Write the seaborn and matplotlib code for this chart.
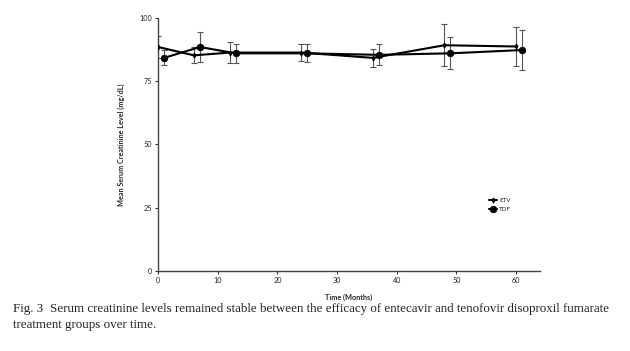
"""
Serum creatinine over time, ETV vs TDF (Fig. 3 recreation)
"""
import numpy as np
import pandas as pd
import matplotlib
matplotlib.use('Agg')
import matplotlib.pyplot as plt
import seaborn as sns

# data
etv_months = [0, 6, 12, 24, 36, 48, 60]
etv_mean = [88.5, 85.2, 86.3, 86.3, 84.2, 89.2, 88.7]
etv_sd = [4.5, 3.2, 4.0, 3.5, 3.6, 8.2, 7.6]

tdf_months = [1, 7, 13, 25, 37, 49, 61]
tdf_mean = [84.2, 88.5, 86.0, 86.0, 85.4, 86.0, 87.3]
tdf_sd = [3.0, 6.0, 3.7, 3.5, 4.1, 6.3, 7.9]

y_ticks = [0, 25, 50, 75, 100]
x_ticks = [0, 10, 20, 30, 40, 50, 60]

df = pd.concat([
    pd.DataFrame({'month': etv_months, 'mean': etv_mean, 'sd': etv_sd, 'group': 'ETV'}),
    pd.DataFrame({'month': tdf_months, 'mean': tdf_mean, 'sd': tdf_sd, 'group': 'TDF'}),
])

sns.set_style('white')
plt.rcParams['font.family'] = ['Lato', 'DejaVu Sans']

fig = plt.figure(figsize=(6.3, 3.51), dpi=100)
ax = fig.add_axes([0.251, 0.228, 0.606, 0.721])

# error bars first, lines on top
for grp in ['ETV', 'TDF']:
    sub = df[df['group'] == grp]
    ax.errorbar(sub['month'], sub['mean'], yerr=sub['sd'], fmt='none',
                ecolor='#555555', elinewidth=0.8, capsize=2, capthick=0.8, zorder=2)

sns.lineplot(data=df, x='month', y='mean', hue='group', style='group',
             markers={'ETV': 'd', 'TDF': 'o'}, dashes=False,
             palette={'ETV': 'black', 'TDF': 'black'},
             linewidth=1.5, markersize=4, ax=ax, zorder=3)

ax.set_xlim(0, 64)
ax.set_ylim(0, 100)
ax.set_xticks(x_ticks)
ax.set_yticks(y_ticks)
ax.tick_params(axis='both', labelsize=5.2, length=2.5, width=0.8, direction='out',
               colors='#333333', labelcolor='#222222', pad=2)
ax.tick_params(bottom=True, left=True)
sns.despine(ax=ax)
for sp in ['left', 'bottom']:
    ax.spines[sp].set_color('#444444')
    ax.spines[sp].set_linewidth(1.0)

ax.set_xlabel('Time (Months)', fontsize=5.2, fontweight='bold', labelpad=7)
ax.set_ylabel('Mean Serum Creatinine Level (mg/dL)', fontsize=5.2,
              fontweight='bold', labelpad=10)

leg = ax.legend(loc='upper left', bbox_to_anchor=(0.86, 0.30), frameon=False,
                fontsize=4.5, handlelength=1.3, handletextpad=0.3,
                labelspacing=0.6, borderaxespad=0)

# all markers solid black, sized like the original
for line in ax.lines + leg.get_lines():
    m = line.get_marker()
    if m in ('d', 'o'):
        line.set_markeredgecolor('black')
        line.set_markerfacecolor('black')
        line.set_markeredgewidth(0.5)
        line.set_markersize(2.8 if m == 'd' else 4.8)

fig.text(0.021, 0.12, 'Fig. 3', fontsize=9.4, family='Liberation Serif', va='center')
fig.text(0.079, 0.12, 'Serum creatinine levels remained stable between the efficacy '
         'of entecavir and tenofovir disoproxil fumarate',
         fontsize=9.4, family='Liberation Serif', va='center')
fig.text(0.021, 0.074, 'treatment groups over time.',
         fontsize=9.4, family='Liberation Serif', va='center')

fig.savefig('out.png', dpi=100)
